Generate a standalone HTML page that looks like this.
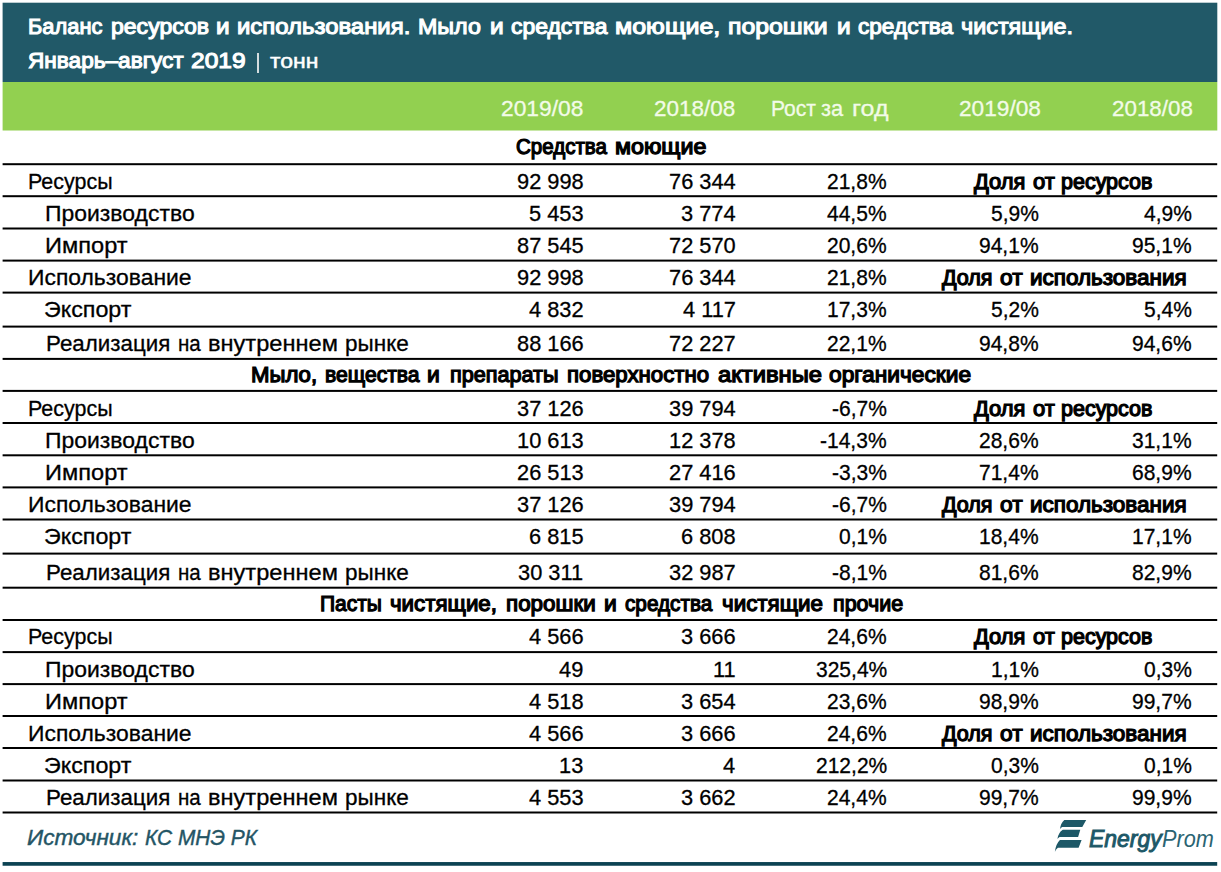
<!DOCTYPE html>
<html><head><meta charset="utf-8"><style>
html,body{margin:0;padding:0;background:#fff;}
body{width:1221px;height:872px;position:relative;overflow:hidden;font-family:"Liberation Sans",sans-serif;}
.t{position:absolute;white-space:nowrap;transform-origin:0 0;}
</style></head><body>
<svg width="1221" height="872" style="position:absolute;left:0;top:0"><rect x="2.6" y="2.7" width="1214.7" height="79.3" fill="#215968"/><rect x="2.6" y="82" width="1214.7" height="48.5" fill="#92d050"/><rect x="2.6" y="163.20" width="1214.6" height="2" fill="#000"/><rect x="2.6" y="195.20" width="1214.6" height="2" fill="#000"/><rect x="2.6" y="227.50" width="1214.6" height="2" fill="#000"/><rect x="2.6" y="259.60" width="1214.6" height="2" fill="#000"/><rect x="2.6" y="291.60" width="1214.6" height="2" fill="#000"/><rect x="2.6" y="325.60" width="1214.6" height="2" fill="#000"/><rect x="2.6" y="357.90" width="1214.6" height="2" fill="#000"/><rect x="2.6" y="389.90" width="1214.6" height="2" fill="#000"/><rect x="2.6" y="422.00" width="1214.6" height="2" fill="#000"/><rect x="2.6" y="454.30" width="1214.6" height="2" fill="#000"/><rect x="2.6" y="486.40" width="1214.6" height="2" fill="#000"/><rect x="2.6" y="518.50" width="1214.6" height="2" fill="#000"/><rect x="2.6" y="552.60" width="1214.6" height="2" fill="#000"/><rect x="2.6" y="586.70" width="1214.6" height="2" fill="#000"/><rect x="2.6" y="619.00" width="1214.6" height="2" fill="#000"/><rect x="2.6" y="651.10" width="1214.6" height="2" fill="#000"/><rect x="2.6" y="683.10" width="1214.6" height="2" fill="#000"/><rect x="2.6" y="715.00" width="1214.6" height="2" fill="#000"/><rect x="2.6" y="747.00" width="1214.6" height="2" fill="#000"/><rect x="2.6" y="779.50" width="1214.6" height="2" fill="#000"/><rect x="2.6" y="811.50" width="1214.6" height="2" fill="#000"/><rect x="2.6" y="862.05" width="1214.6" height="3.7" fill="#0b4252"/></svg>
<div class="t" style="left:27.94px;top:16.00px;font-size:22.2px;line-height:22.2px;color:#fff;-webkit-text-stroke:1.1px #fff;transform:scaleX(0.9848);">Баланс</div>
<div class="t" style="left:110.67px;top:16.00px;font-size:22.2px;line-height:22.2px;color:#fff;-webkit-text-stroke:1.1px #fff;transform:scaleX(1.0378);">ресурсов</div>
<div class="t" style="left:216.30px;top:16.00px;font-size:22.2px;line-height:22.2px;color:#fff;-webkit-text-stroke:1.1px #fff;transform:scaleX(1.0955);">и</div>
<div class="t" style="left:237.49px;top:16.00px;font-size:22.2px;line-height:22.2px;color:#fff;-webkit-text-stroke:1.1px #fff;transform:scaleX(1.0776);">использования.</div>
<div class="t" style="left:418.48px;top:16.00px;font-size:22.2px;line-height:22.2px;color:#fff;-webkit-text-stroke:1.1px #fff;transform:scaleX(1.0474);">Мыло</div>
<div class="t" style="left:489.71px;top:16.00px;font-size:22.2px;line-height:22.2px;color:#fff;-webkit-text-stroke:1.1px #fff;transform:scaleX(1.1029);">и</div>
<div class="t" style="left:510.97px;top:16.00px;font-size:22.2px;line-height:22.2px;color:#fff;-webkit-text-stroke:1.1px #fff;transform:scaleX(1.0324);">средства</div>
<div class="t" style="left:615.02px;top:16.00px;font-size:22.2px;line-height:22.2px;color:#fff;-webkit-text-stroke:1.1px #fff;transform:scaleX(1.1276);">моющие,</div>
<div class="t" style="left:728.02px;top:16.00px;font-size:22.2px;line-height:22.2px;color:#fff;-webkit-text-stroke:1.1px #fff;transform:scaleX(1.1190);">порошки</div>
<div class="t" style="left:836.81px;top:16.00px;font-size:22.2px;line-height:22.2px;color:#fff;-webkit-text-stroke:1.1px #fff;transform:scaleX(1.1029);">и</div>
<div class="t" style="left:858.06px;top:16.00px;font-size:22.2px;line-height:22.2px;color:#fff;-webkit-text-stroke:1.1px #fff;transform:scaleX(1.0186);">средства</div>
<div class="t" style="left:961.18px;top:16.00px;font-size:22.2px;line-height:22.2px;color:#fff;-webkit-text-stroke:1.1px #fff;transform:scaleX(1.0528);">чистящие.</div>
<div class="t" style="left:27.96px;top:50.00px;font-size:22.2px;line-height:22.2px;color:#fff;-webkit-text-stroke:1.1px #fff;transform:scaleX(1.0188);">Январь–август</div>
<div class="t" style="left:190.81px;top:50.00px;font-size:22.2px;line-height:22.2px;color:#fff;-webkit-text-stroke:1.1px #fff;transform:scaleX(1.1051);">2019</div>
<div class="t" style="left:269.87px;top:50.00px;font-size:21px;line-height:21px;color:#fff;-webkit-text-stroke:0.5px #fff;transform:scaleX(1.0950);">тонн</div>
<div style="position:absolute;left:256.6px;top:53px;width:2.6px;height:19.5px;background:#d3dddf"></div>
<div class="t" style="left:501.05px;top:98.00px;font-size:22.6px;line-height:22.6px;color:#f2fbe8;-webkit-text-stroke:0.3px #f2fbe8;transform:scaleX(1.0085);">2019/08</div>
<div class="t" style="left:654.35px;top:98.00px;font-size:22.6px;line-height:22.6px;color:#f2fbe8;-webkit-text-stroke:0.3px #f2fbe8;transform:scaleX(0.9964);">2018/08</div>
<div class="t" style="left:770.84px;top:98.00px;font-size:22.6px;line-height:22.6px;color:#f2fbe8;-webkit-text-stroke:0.3px #f2fbe8;transform:scaleX(0.9322);">Рост</div>
<div class="t" style="left:821.25px;top:98.00px;font-size:22.6px;line-height:22.6px;color:#f2fbe8;-webkit-text-stroke:0.3px #f2fbe8;transform:scaleX(0.9673);">за</div>
<div class="t" style="left:852.27px;top:98.00px;font-size:22.6px;line-height:22.6px;color:#f2fbe8;-webkit-text-stroke:0.3px #f2fbe8;transform:scaleX(1.1052);">год</div>
<div class="t" style="left:958.95px;top:98.00px;font-size:22.6px;line-height:22.6px;color:#f2fbe8;-webkit-text-stroke:0.3px #f2fbe8;transform:scaleX(1.0037);">2019/08</div>
<div class="t" style="left:1111.95px;top:98.00px;font-size:22.6px;line-height:22.6px;color:#f2fbe8;-webkit-text-stroke:0.3px #f2fbe8;transform:scaleX(0.9903);">2018/08</div>
<div class="t" style="left:515.69px;top:136.00px;font-size:21.7px;line-height:21.7px;-webkit-text-stroke:1.25px #000;transform:scaleX(0.9466);">Средства</div>
<div class="t" style="left:615.17px;top:136.00px;font-size:21.7px;line-height:21.7px;-webkit-text-stroke:1.25px #000;transform:scaleX(1.0722);">моющие</div>
<div class="t" style="left:27.54px;top:171.00px;font-size:22.6px;line-height:22.6px;-webkit-text-stroke:0.3px #000;transform:scaleX(0.9495);">Ресурсы</div>
<div class="t" style="left:516.54px;top:171.00px;font-size:22.6px;line-height:22.6px;-webkit-text-stroke:0.3px #000;transform:scaleX(0.9650);">92 998</div>
<div class="t" style="left:668.74px;top:171.00px;font-size:22.6px;line-height:22.6px;-webkit-text-stroke:0.3px #000;transform:scaleX(0.9650);">76 344</div>
<div class="t" style="left:827.47px;top:171.00px;font-size:22.6px;line-height:22.6px;-webkit-text-stroke:0.3px #000;transform:scaleX(0.9300);">21,8%</div>
<div class="t" style="left:973.83px;top:171.00px;font-size:21.7px;line-height:21.7px;-webkit-text-stroke:1.25px #000;transform:scaleX(1.0076);">Доля</div>
<div class="t" style="left:1032.83px;top:171.00px;font-size:21.7px;line-height:21.7px;-webkit-text-stroke:1.25px #000;transform:scaleX(1.0142);">от</div>
<div class="t" style="left:1061.42px;top:171.00px;font-size:21.7px;line-height:21.7px;-webkit-text-stroke:1.25px #000;transform:scaleX(0.9903);">ресурсов</div>
<div class="t" style="left:44.75px;top:203.00px;font-size:22.6px;line-height:22.6px;-webkit-text-stroke:0.3px #000;transform:scaleX(1.0159);">Производство</div>
<div class="t" style="left:528.69px;top:203.00px;font-size:22.6px;line-height:22.6px;-webkit-text-stroke:0.3px #000;transform:scaleX(0.9650);">5 453</div>
<div class="t" style="left:680.89px;top:203.00px;font-size:22.6px;line-height:22.6px;-webkit-text-stroke:0.3px #000;transform:scaleX(0.9650);">3 774</div>
<div class="t" style="left:827.47px;top:203.00px;font-size:22.6px;line-height:22.6px;-webkit-text-stroke:0.3px #000;transform:scaleX(0.9300);">44,5%</div>
<div class="t" style="left:991.16px;top:203.00px;font-size:22.6px;line-height:22.6px;-webkit-text-stroke:0.3px #000;transform:scaleX(0.9300);">5,9%</div>
<div class="t" style="left:1143.96px;top:203.00px;font-size:22.6px;line-height:22.6px;-webkit-text-stroke:0.3px #000;transform:scaleX(0.9300);">4,9%</div>
<div class="t" style="left:44.76px;top:235.00px;font-size:22.6px;line-height:22.6px;-webkit-text-stroke:0.3px #000;transform:scaleX(1.0453);">Импорт</div>
<div class="t" style="left:516.54px;top:235.00px;font-size:22.6px;line-height:22.6px;-webkit-text-stroke:0.3px #000;transform:scaleX(0.9650);">87 545</div>
<div class="t" style="left:668.74px;top:235.00px;font-size:22.6px;line-height:22.6px;-webkit-text-stroke:0.3px #000;transform:scaleX(0.9650);">72 570</div>
<div class="t" style="left:827.47px;top:235.00px;font-size:22.6px;line-height:22.6px;-webkit-text-stroke:0.3px #000;transform:scaleX(0.9300);">20,6%</div>
<div class="t" style="left:979.47px;top:235.00px;font-size:22.6px;line-height:22.6px;-webkit-text-stroke:0.3px #000;transform:scaleX(0.9300);">94,1%</div>
<div class="t" style="left:1132.27px;top:235.00px;font-size:22.6px;line-height:22.6px;-webkit-text-stroke:0.3px #000;transform:scaleX(0.9300);">95,1%</div>
<div class="t" style="left:27.55px;top:267.00px;font-size:22.6px;line-height:22.6px;-webkit-text-stroke:0.3px #000;transform:scaleX(1.0130);">Использование</div>
<div class="t" style="left:516.54px;top:267.00px;font-size:22.6px;line-height:22.6px;-webkit-text-stroke:0.3px #000;transform:scaleX(0.9650);">92 998</div>
<div class="t" style="left:668.74px;top:267.00px;font-size:22.6px;line-height:22.6px;-webkit-text-stroke:0.3px #000;transform:scaleX(0.9650);">76 344</div>
<div class="t" style="left:827.47px;top:267.00px;font-size:22.6px;line-height:22.6px;-webkit-text-stroke:0.3px #000;transform:scaleX(0.9300);">21,8%</div>
<div class="t" style="left:942.32px;top:267.00px;font-size:21.7px;line-height:21.7px;-webkit-text-stroke:1.25px #000;transform:scaleX(0.9923);">Доля</div>
<div class="t" style="left:1000.46px;top:267.00px;font-size:21.7px;line-height:21.7px;-webkit-text-stroke:1.25px #000;transform:scaleX(1.0493);">от</div>
<div class="t" style="left:1029.95px;top:267.00px;font-size:21.7px;line-height:21.7px;-webkit-text-stroke:1.25px #000;transform:scaleX(1.0359);">использования</div>
<div class="t" style="left:44.25px;top:299.00px;font-size:22.6px;line-height:22.6px;-webkit-text-stroke:0.3px #000;transform:scaleX(1.0304);">Экспорт</div>
<div class="t" style="left:528.69px;top:299.00px;font-size:22.6px;line-height:22.6px;-webkit-text-stroke:0.3px #000;transform:scaleX(0.9650);">4 832</div>
<div class="t" style="left:682.50px;top:299.00px;font-size:22.6px;line-height:22.6px;-webkit-text-stroke:0.3px #000;transform:scaleX(0.9650);">4 117</div>
<div class="t" style="left:827.47px;top:299.00px;font-size:22.6px;line-height:22.6px;-webkit-text-stroke:0.3px #000;transform:scaleX(0.9300);">17,3%</div>
<div class="t" style="left:991.16px;top:299.00px;font-size:22.6px;line-height:22.6px;-webkit-text-stroke:0.3px #000;transform:scaleX(0.9300);">5,2%</div>
<div class="t" style="left:1143.96px;top:299.00px;font-size:22.6px;line-height:22.6px;-webkit-text-stroke:0.3px #000;transform:scaleX(0.9300);">5,4%</div>
<div class="t" style="left:45.95px;top:333.00px;font-size:22.6px;line-height:22.6px;-webkit-text-stroke:0.3px #000;transform:scaleX(0.9883);">Реализация</div>
<div class="t" style="left:177.74px;top:333.00px;font-size:22.6px;line-height:22.6px;-webkit-text-stroke:0.3px #000;transform:scaleX(0.9108);">на</div>
<div class="t" style="left:208.06px;top:333.00px;font-size:22.6px;line-height:22.6px;-webkit-text-stroke:0.3px #000;transform:scaleX(1.0446);">внутреннем</div>
<div class="t" style="left:345.45px;top:333.00px;font-size:22.6px;line-height:22.6px;-webkit-text-stroke:0.3px #000;transform:scaleX(0.9968);">рынке</div>
<div class="t" style="left:516.54px;top:333.00px;font-size:22.6px;line-height:22.6px;-webkit-text-stroke:0.3px #000;transform:scaleX(0.9650);">88 166</div>
<div class="t" style="left:668.74px;top:333.00px;font-size:22.6px;line-height:22.6px;-webkit-text-stroke:0.3px #000;transform:scaleX(0.9650);">72 227</div>
<div class="t" style="left:827.47px;top:333.00px;font-size:22.6px;line-height:22.6px;-webkit-text-stroke:0.3px #000;transform:scaleX(0.9300);">22,1%</div>
<div class="t" style="left:979.47px;top:333.00px;font-size:22.6px;line-height:22.6px;-webkit-text-stroke:0.3px #000;transform:scaleX(0.9300);">94,8%</div>
<div class="t" style="left:1132.27px;top:333.00px;font-size:22.6px;line-height:22.6px;-webkit-text-stroke:0.3px #000;transform:scaleX(0.9300);">94,6%</div>
<div class="t" style="left:250.54px;top:364.00px;font-size:21.7px;line-height:21.7px;-webkit-text-stroke:1.25px #000;transform:scaleX(1.0225);">Мыло,</div>
<div class="t" style="left:325.11px;top:364.00px;font-size:21.7px;line-height:21.7px;-webkit-text-stroke:1.25px #000;transform:scaleX(0.9742);">вещества</div>
<div class="t" style="left:427.46px;top:364.00px;font-size:21.7px;line-height:21.7px;-webkit-text-stroke:1.25px #000;transform:scaleX(1.0538);">и</div>
<div class="t" style="left:450.32px;top:364.00px;font-size:21.7px;line-height:21.7px;-webkit-text-stroke:1.25px #000;transform:scaleX(0.9976);">препараты</div>
<div class="t" style="left:567.44px;top:364.00px;font-size:21.7px;line-height:21.7px;-webkit-text-stroke:1.25px #000;transform:scaleX(1.0243);">поверхностно</div>
<div class="t" style="left:718.08px;top:364.00px;font-size:21.7px;line-height:21.7px;-webkit-text-stroke:1.25px #000;transform:scaleX(1.0945);">активные</div>
<div class="t" style="left:828.96px;top:364.00px;font-size:21.7px;line-height:21.7px;-webkit-text-stroke:1.25px #000;transform:scaleX(1.0481);">органические</div>
<div class="t" style="left:27.54px;top:398.00px;font-size:22.6px;line-height:22.6px;-webkit-text-stroke:0.3px #000;transform:scaleX(0.9495);">Ресурсы</div>
<div class="t" style="left:516.54px;top:398.00px;font-size:22.6px;line-height:22.6px;-webkit-text-stroke:0.3px #000;transform:scaleX(0.9650);">37 126</div>
<div class="t" style="left:668.74px;top:398.00px;font-size:22.6px;line-height:22.6px;-webkit-text-stroke:0.3px #000;transform:scaleX(0.9650);">39 794</div>
<div class="t" style="left:832.16px;top:398.00px;font-size:22.6px;line-height:22.6px;-webkit-text-stroke:0.3px #000;transform:scaleX(0.9300);">-6,7%</div>
<div class="t" style="left:973.83px;top:398.00px;font-size:21.7px;line-height:21.7px;-webkit-text-stroke:1.25px #000;transform:scaleX(1.0076);">Доля</div>
<div class="t" style="left:1032.83px;top:398.00px;font-size:21.7px;line-height:21.7px;-webkit-text-stroke:1.25px #000;transform:scaleX(1.0142);">от</div>
<div class="t" style="left:1061.42px;top:398.00px;font-size:21.7px;line-height:21.7px;-webkit-text-stroke:1.25px #000;transform:scaleX(0.9903);">ресурсов</div>
<div class="t" style="left:44.75px;top:430.00px;font-size:22.6px;line-height:22.6px;-webkit-text-stroke:0.3px #000;transform:scaleX(1.0159);">Производство</div>
<div class="t" style="left:516.54px;top:430.00px;font-size:22.6px;line-height:22.6px;-webkit-text-stroke:0.3px #000;transform:scaleX(0.9650);">10 613</div>
<div class="t" style="left:668.74px;top:430.00px;font-size:22.6px;line-height:22.6px;-webkit-text-stroke:0.3px #000;transform:scaleX(0.9650);">12 378</div>
<div class="t" style="left:820.48px;top:430.00px;font-size:22.6px;line-height:22.6px;-webkit-text-stroke:0.3px #000;transform:scaleX(0.9300);">-14,3%</div>
<div class="t" style="left:979.47px;top:430.00px;font-size:22.6px;line-height:22.6px;-webkit-text-stroke:0.3px #000;transform:scaleX(0.9300);">28,6%</div>
<div class="t" style="left:1132.27px;top:430.00px;font-size:22.6px;line-height:22.6px;-webkit-text-stroke:0.3px #000;transform:scaleX(0.9300);">31,1%</div>
<div class="t" style="left:44.76px;top:462.00px;font-size:22.6px;line-height:22.6px;-webkit-text-stroke:0.3px #000;transform:scaleX(1.0453);">Импорт</div>
<div class="t" style="left:516.54px;top:462.00px;font-size:22.6px;line-height:22.6px;-webkit-text-stroke:0.3px #000;transform:scaleX(0.9650);">26 513</div>
<div class="t" style="left:668.74px;top:462.00px;font-size:22.6px;line-height:22.6px;-webkit-text-stroke:0.3px #000;transform:scaleX(0.9650);">27 416</div>
<div class="t" style="left:832.16px;top:462.00px;font-size:22.6px;line-height:22.6px;-webkit-text-stroke:0.3px #000;transform:scaleX(0.9300);">-3,3%</div>
<div class="t" style="left:979.47px;top:462.00px;font-size:22.6px;line-height:22.6px;-webkit-text-stroke:0.3px #000;transform:scaleX(0.9300);">71,4%</div>
<div class="t" style="left:1132.27px;top:462.00px;font-size:22.6px;line-height:22.6px;-webkit-text-stroke:0.3px #000;transform:scaleX(0.9300);">68,9%</div>
<div class="t" style="left:27.55px;top:494.00px;font-size:22.6px;line-height:22.6px;-webkit-text-stroke:0.3px #000;transform:scaleX(1.0130);">Использование</div>
<div class="t" style="left:516.54px;top:494.00px;font-size:22.6px;line-height:22.6px;-webkit-text-stroke:0.3px #000;transform:scaleX(0.9650);">37 126</div>
<div class="t" style="left:668.74px;top:494.00px;font-size:22.6px;line-height:22.6px;-webkit-text-stroke:0.3px #000;transform:scaleX(0.9650);">39 794</div>
<div class="t" style="left:832.16px;top:494.00px;font-size:22.6px;line-height:22.6px;-webkit-text-stroke:0.3px #000;transform:scaleX(0.9300);">-6,7%</div>
<div class="t" style="left:942.32px;top:494.00px;font-size:21.7px;line-height:21.7px;-webkit-text-stroke:1.25px #000;transform:scaleX(0.9923);">Доля</div>
<div class="t" style="left:1000.46px;top:494.00px;font-size:21.7px;line-height:21.7px;-webkit-text-stroke:1.25px #000;transform:scaleX(1.0493);">от</div>
<div class="t" style="left:1029.95px;top:494.00px;font-size:21.7px;line-height:21.7px;-webkit-text-stroke:1.25px #000;transform:scaleX(1.0359);">использования</div>
<div class="t" style="left:44.25px;top:526.00px;font-size:22.6px;line-height:22.6px;-webkit-text-stroke:0.3px #000;transform:scaleX(1.0304);">Экспорт</div>
<div class="t" style="left:528.69px;top:526.00px;font-size:22.6px;line-height:22.6px;-webkit-text-stroke:0.3px #000;transform:scaleX(0.9650);">6 815</div>
<div class="t" style="left:680.89px;top:526.00px;font-size:22.6px;line-height:22.6px;-webkit-text-stroke:0.3px #000;transform:scaleX(0.9650);">6 808</div>
<div class="t" style="left:839.16px;top:526.00px;font-size:22.6px;line-height:22.6px;-webkit-text-stroke:0.3px #000;transform:scaleX(0.9300);">0,1%</div>
<div class="t" style="left:979.47px;top:526.00px;font-size:22.6px;line-height:22.6px;-webkit-text-stroke:0.3px #000;transform:scaleX(0.9300);">18,4%</div>
<div class="t" style="left:1132.27px;top:526.00px;font-size:22.6px;line-height:22.6px;-webkit-text-stroke:0.3px #000;transform:scaleX(0.9300);">17,1%</div>
<div class="t" style="left:45.95px;top:562.00px;font-size:22.6px;line-height:22.6px;-webkit-text-stroke:0.3px #000;transform:scaleX(0.9883);">Реализация</div>
<div class="t" style="left:177.74px;top:562.00px;font-size:22.6px;line-height:22.6px;-webkit-text-stroke:0.3px #000;transform:scaleX(0.9108);">на</div>
<div class="t" style="left:208.06px;top:562.00px;font-size:22.6px;line-height:22.6px;-webkit-text-stroke:0.3px #000;transform:scaleX(1.0446);">внутреннем</div>
<div class="t" style="left:345.45px;top:562.00px;font-size:22.6px;line-height:22.6px;-webkit-text-stroke:0.3px #000;transform:scaleX(0.9968);">рынке</div>
<div class="t" style="left:518.18px;top:562.00px;font-size:22.6px;line-height:22.6px;-webkit-text-stroke:0.3px #000;transform:scaleX(0.9650);">30 311</div>
<div class="t" style="left:668.74px;top:562.00px;font-size:22.6px;line-height:22.6px;-webkit-text-stroke:0.3px #000;transform:scaleX(0.9650);">32 987</div>
<div class="t" style="left:832.16px;top:562.00px;font-size:22.6px;line-height:22.6px;-webkit-text-stroke:0.3px #000;transform:scaleX(0.9300);">-8,1%</div>
<div class="t" style="left:979.47px;top:562.00px;font-size:22.6px;line-height:22.6px;-webkit-text-stroke:0.3px #000;transform:scaleX(0.9300);">81,6%</div>
<div class="t" style="left:1132.27px;top:562.00px;font-size:22.6px;line-height:22.6px;-webkit-text-stroke:0.3px #000;transform:scaleX(0.9300);">82,9%</div>
<div class="t" style="left:319.70px;top:593.00px;font-size:21.7px;line-height:21.7px;-webkit-text-stroke:1.25px #000;transform:scaleX(0.9677);">Пасты</div>
<div class="t" style="left:390.14px;top:593.00px;font-size:21.7px;line-height:21.7px;-webkit-text-stroke:1.25px #000;transform:scaleX(1.0287);">чистящие,</div>
<div class="t" style="left:505.55px;top:593.00px;font-size:21.7px;line-height:21.7px;-webkit-text-stroke:1.25px #000;transform:scaleX(1.0326);">порошки</div>
<div class="t" style="left:603.86px;top:593.00px;font-size:21.7px;line-height:21.7px;-webkit-text-stroke:1.25px #000;transform:scaleX(1.0538);">и</div>
<div class="t" style="left:625.10px;top:593.00px;font-size:21.7px;line-height:21.7px;-webkit-text-stroke:1.25px #000;transform:scaleX(0.9559);">средства</div>
<div class="t" style="left:722.24px;top:593.00px;font-size:21.7px;line-height:21.7px;-webkit-text-stroke:1.25px #000;transform:scaleX(1.0315);">чистящие</div>
<div class="t" style="left:833.12px;top:593.00px;font-size:21.7px;line-height:21.7px;-webkit-text-stroke:1.25px #000;transform:scaleX(0.9908);">прочие</div>
<div class="t" style="left:27.54px;top:626.00px;font-size:22.6px;line-height:22.6px;-webkit-text-stroke:0.3px #000;transform:scaleX(0.9495);">Ресурсы</div>
<div class="t" style="left:528.69px;top:626.00px;font-size:22.6px;line-height:22.6px;-webkit-text-stroke:0.3px #000;transform:scaleX(0.9650);">4 566</div>
<div class="t" style="left:680.89px;top:626.00px;font-size:22.6px;line-height:22.6px;-webkit-text-stroke:0.3px #000;transform:scaleX(0.9650);">3 666</div>
<div class="t" style="left:827.47px;top:626.00px;font-size:22.6px;line-height:22.6px;-webkit-text-stroke:0.3px #000;transform:scaleX(0.9300);">24,6%</div>
<div class="t" style="left:973.83px;top:626.00px;font-size:21.7px;line-height:21.7px;-webkit-text-stroke:1.25px #000;transform:scaleX(1.0076);">Доля</div>
<div class="t" style="left:1032.83px;top:626.00px;font-size:21.7px;line-height:21.7px;-webkit-text-stroke:1.25px #000;transform:scaleX(1.0142);">от</div>
<div class="t" style="left:1061.42px;top:626.00px;font-size:21.7px;line-height:21.7px;-webkit-text-stroke:1.25px #000;transform:scaleX(0.9903);">ресурсов</div>
<div class="t" style="left:44.75px;top:659.00px;font-size:22.6px;line-height:22.6px;-webkit-text-stroke:0.3px #000;transform:scaleX(1.0159);">Производство</div>
<div class="t" style="left:559.00px;top:659.00px;font-size:22.6px;line-height:22.6px;-webkit-text-stroke:0.3px #000;transform:scaleX(0.9650);">49</div>
<div class="t" style="left:712.82px;top:659.00px;font-size:22.6px;line-height:22.6px;-webkit-text-stroke:0.3px #000;transform:scaleX(0.9650);">11</div>
<div class="t" style="left:815.77px;top:659.00px;font-size:22.6px;line-height:22.6px;-webkit-text-stroke:0.3px #000;transform:scaleX(0.9300);">325,4%</div>
<div class="t" style="left:991.16px;top:659.00px;font-size:22.6px;line-height:22.6px;-webkit-text-stroke:0.3px #000;transform:scaleX(0.9300);">1,1%</div>
<div class="t" style="left:1143.96px;top:659.00px;font-size:22.6px;line-height:22.6px;-webkit-text-stroke:0.3px #000;transform:scaleX(0.9300);">0,3%</div>
<div class="t" style="left:44.76px;top:691.00px;font-size:22.6px;line-height:22.6px;-webkit-text-stroke:0.3px #000;transform:scaleX(1.0453);">Импорт</div>
<div class="t" style="left:528.69px;top:691.00px;font-size:22.6px;line-height:22.6px;-webkit-text-stroke:0.3px #000;transform:scaleX(0.9650);">4 518</div>
<div class="t" style="left:680.89px;top:691.00px;font-size:22.6px;line-height:22.6px;-webkit-text-stroke:0.3px #000;transform:scaleX(0.9650);">3 654</div>
<div class="t" style="left:827.47px;top:691.00px;font-size:22.6px;line-height:22.6px;-webkit-text-stroke:0.3px #000;transform:scaleX(0.9300);">23,6%</div>
<div class="t" style="left:979.47px;top:691.00px;font-size:22.6px;line-height:22.6px;-webkit-text-stroke:0.3px #000;transform:scaleX(0.9300);">98,9%</div>
<div class="t" style="left:1132.27px;top:691.00px;font-size:22.6px;line-height:22.6px;-webkit-text-stroke:0.3px #000;transform:scaleX(0.9300);">99,7%</div>
<div class="t" style="left:27.55px;top:723.00px;font-size:22.6px;line-height:22.6px;-webkit-text-stroke:0.3px #000;transform:scaleX(1.0130);">Использование</div>
<div class="t" style="left:528.69px;top:723.00px;font-size:22.6px;line-height:22.6px;-webkit-text-stroke:0.3px #000;transform:scaleX(0.9650);">4 566</div>
<div class="t" style="left:680.89px;top:723.00px;font-size:22.6px;line-height:22.6px;-webkit-text-stroke:0.3px #000;transform:scaleX(0.9650);">3 666</div>
<div class="t" style="left:827.47px;top:723.00px;font-size:22.6px;line-height:22.6px;-webkit-text-stroke:0.3px #000;transform:scaleX(0.9300);">24,6%</div>
<div class="t" style="left:942.32px;top:723.00px;font-size:21.7px;line-height:21.7px;-webkit-text-stroke:1.25px #000;transform:scaleX(0.9923);">Доля</div>
<div class="t" style="left:1000.46px;top:723.00px;font-size:21.7px;line-height:21.7px;-webkit-text-stroke:1.25px #000;transform:scaleX(1.0493);">от</div>
<div class="t" style="left:1029.95px;top:723.00px;font-size:21.7px;line-height:21.7px;-webkit-text-stroke:1.25px #000;transform:scaleX(1.0359);">использования</div>
<div class="t" style="left:44.25px;top:755.00px;font-size:22.6px;line-height:22.6px;-webkit-text-stroke:0.3px #000;transform:scaleX(1.0304);">Экспорт</div>
<div class="t" style="left:559.00px;top:755.00px;font-size:22.6px;line-height:22.6px;-webkit-text-stroke:0.3px #000;transform:scaleX(0.9650);">13</div>
<div class="t" style="left:723.33px;top:755.00px;font-size:22.6px;line-height:22.6px;-webkit-text-stroke:0.3px #000;transform:scaleX(0.9650);">4</div>
<div class="t" style="left:815.77px;top:755.00px;font-size:22.6px;line-height:22.6px;-webkit-text-stroke:0.3px #000;transform:scaleX(0.9300);">212,2%</div>
<div class="t" style="left:991.16px;top:755.00px;font-size:22.6px;line-height:22.6px;-webkit-text-stroke:0.3px #000;transform:scaleX(0.9300);">0,3%</div>
<div class="t" style="left:1143.96px;top:755.00px;font-size:22.6px;line-height:22.6px;-webkit-text-stroke:0.3px #000;transform:scaleX(0.9300);">0,1%</div>
<div class="t" style="left:45.95px;top:787.00px;font-size:22.6px;line-height:22.6px;-webkit-text-stroke:0.3px #000;transform:scaleX(0.9883);">Реализация</div>
<div class="t" style="left:177.74px;top:787.00px;font-size:22.6px;line-height:22.6px;-webkit-text-stroke:0.3px #000;transform:scaleX(0.9108);">на</div>
<div class="t" style="left:208.06px;top:787.00px;font-size:22.6px;line-height:22.6px;-webkit-text-stroke:0.3px #000;transform:scaleX(1.0446);">внутреннем</div>
<div class="t" style="left:345.45px;top:787.00px;font-size:22.6px;line-height:22.6px;-webkit-text-stroke:0.3px #000;transform:scaleX(0.9968);">рынке</div>
<div class="t" style="left:528.69px;top:787.00px;font-size:22.6px;line-height:22.6px;-webkit-text-stroke:0.3px #000;transform:scaleX(0.9650);">4 553</div>
<div class="t" style="left:680.89px;top:787.00px;font-size:22.6px;line-height:22.6px;-webkit-text-stroke:0.3px #000;transform:scaleX(0.9650);">3 662</div>
<div class="t" style="left:827.47px;top:787.00px;font-size:22.6px;line-height:22.6px;-webkit-text-stroke:0.3px #000;transform:scaleX(0.9300);">24,4%</div>
<div class="t" style="left:979.47px;top:787.00px;font-size:22.6px;line-height:22.6px;-webkit-text-stroke:0.3px #000;transform:scaleX(0.9300);">99,7%</div>
<div class="t" style="left:1132.27px;top:787.00px;font-size:22.6px;line-height:22.6px;-webkit-text-stroke:0.3px #000;transform:scaleX(0.9300);">99,9%</div>
<div class="t" style="left:26.81px;top:828.00px;font-size:21.5px;line-height:21.5px;font-style:italic;color:#245565;-webkit-text-stroke:0.4px #245565;transform:scaleX(1.0525);">Источник:</div>
<div class="t" style="left:145.29px;top:828.00px;font-size:21.5px;line-height:21.5px;font-style:italic;color:#245565;-webkit-text-stroke:0.4px #245565;transform:scaleX(0.9711);">КС МНЭ РК</div>
<svg width="40" height="40" style="position:absolute;left:1050px;top:815px" viewBox="0 0 40 40">
<path fill="#1d5867" d="M14.3,5 L36.2,5 L32.3,12.1 L12.2,12.1 Q10.6,12.9 9.9,14.2 Q10.8,8 14.3,5 Z"/>
<path fill="#1d5867" d="M12.8,14.8 L30.3,14.8 L28.1,21.9 L9.6,21.9 Q8.1,22.7 7.4,23.9 Q8.4,17.6 12.8,14.8 Z"/>
<path fill="#1d5867" d="M9.9,25.1 L31.6,25.1 L28.6,32.8 L7.9,32.8 Q5.9,34.4 4.9,36.7 Q5.9,29 9.9,25.1 Z"/>
</svg>
<div class="t" style="left:1088.57px;top:827.00px;font-size:24.3px;line-height:24.3px;font-style:italic;color:#1d5867;-webkit-text-stroke:1.0px #1d5867;transform:scaleX(0.9429);">Energy</div>
<div class="t" style="left:1162.20px;top:827.00px;font-size:24.3px;line-height:24.3px;font-style:italic;color:#2a6472;transform:scaleX(0.8923);">Prom</div>
</body></html>
